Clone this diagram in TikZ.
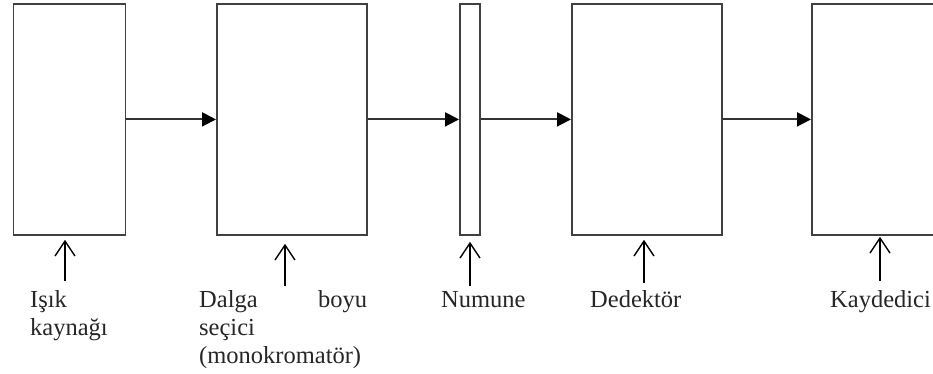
\documentclass[tikz,border=0pt]{standalone}
\usepackage{fontspec}
\setmainfont{Liberation Serif}
\usetikzlibrary{arrows.meta}
\begin{document}
\begin{tikzpicture}[x=1pt,y=-1pt,
  block/.style={draw=black!75,line width=1.8pt,minimum height=231pt,inner sep=0pt,anchor=north west},
  flow/.style={draw=black!80,line width=2pt,-{Triangle[length=14pt,width=14pt,fill=black,color=black]}},
  pointer/.style={line width=1.5pt,-{Straight Barb[length=15pt,width=20pt,line width=1.4pt]},shorten >=4pt},
  label/.style={font=\fontsize{24.5}{28}\selectfont,text=black!85,inner sep=0pt,anchor=base west}]
  \useasboundingbox (0,0) rectangle (933,374);
  \clip (0,0) rectangle (933,374);
  % instrument blocks
  \node[block,minimum width=112pt] (b1) at (12.5,3) {};
  \node[block,minimum width=150pt] (b2) at (216,3) {};
  \node[block,minimum width=20pt]  (b3) at (459,3) {};
  \node[block,minimum width=150pt] (b4) at (571,3) {};
  \node[block,minimum width=150pt] (b5) at (811,3) {};
  % light path
  \draw[flow] (b1.east) -- (b2.west);
  \draw[flow] (b2.east) -- (b3.west);
  \draw[flow] (b3.east) -- (b4.west);
  \draw[flow] (b4.east) -- (b5.west);
  % labels
  \node[label] (t1) at (30,307) {Işık};
  \node[label] (t1b) at (30,335) {kaynağı};
  \node[label,text width=168pt] (t2) at (199,307) {Dalga\hfill boyu};
  \node[label] (t2b) at (199,335) {seçici};
  \node[label] (t2c) at (199,363) {(monokromatör)};
  \node[label] (t3) at (441,307) {Numune};
  \node[label] (t4) at (590,307) {Dedektör};
  \node[label] (t5) at (830,307) {Kaydedici};
  % pointer arrows
  \coordinate (p1) at (65,281);
  \coordinate (p2) at (285,286);
  \coordinate (p3) at (470,286);
  \coordinate (p4) at (644,283);
  \coordinate (p5) at (880,281);
  \draw[pointer] (p1) -- (p1 |- b1.south);
  \draw[pointer,shorten >=8pt] (p2) -- (p2 |- b2.south);
  \draw[pointer,shorten >=6pt] (p3) -- (p3 |- b3.south);
  \draw[pointer] (p4) -- (p4 |- b4.south);
  \draw[pointer,shorten >=1pt] (p5) -- (p5 |- b5.south);
\end{tikzpicture}
\end{document}
